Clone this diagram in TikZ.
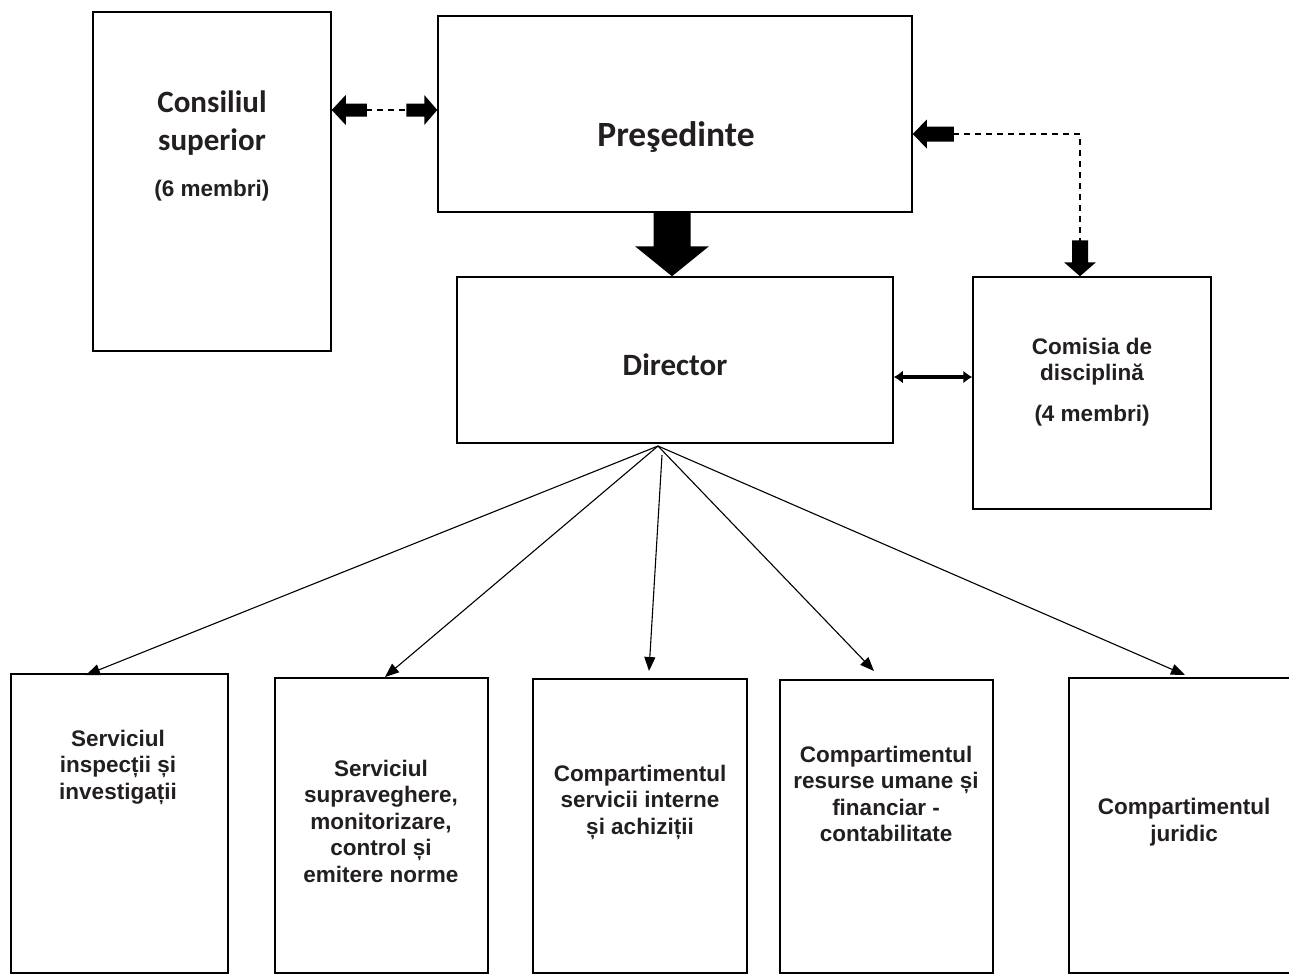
\documentclass[tikz,border=0pt]{standalone}
\usepackage{fontspec}
\setmainfont{Liberation Sans}
\newfontfamily\calfont{Carlito}
\usetikzlibrary{arrows.meta}
\definecolor{ink}{HTML}{231F20}
\begin{document}
\begin{tikzpicture}[x=1pt,y=-1pt,
  boxnode/.style={draw=black,line width=1.5pt,inner sep=0pt,fill=white},
  txt/.style={text=ink,align=center,inner sep=0pt,font=\fontsize{22.5}{26.5}\selectfont\bfseries},
  caltxt/.style={text=ink,align=center,inner sep=0pt,font=\calfont\fontsize{31}{38}\selectfont\bfseries},
  blockarrow/.style={fill=black,draw=none},
  dashline/.style={draw=black,line width=1.4pt,dash pattern=on 6pt off 5pt},
  fan/.style={draw=black,line width=1.1pt,-{Triangle[length=14pt,width=11pt]}}]
\useasboundingbox (0,0) rectangle (1289,975);
\fill[white] (0,0) rectangle (1289,975);

% boxes
\node[boxnode,minimum width=238pt,minimum height=339pt] (cons) at (212,181.5) {};
\node[boxnode,minimum width=474pt,minimum height=196pt] (pres) at (675,114) {};
\node[boxnode,minimum width=436pt,minimum height=166pt] (dir) at (675,360) {};
\node[boxnode,minimum width=238pt,minimum height=232pt] (com) at (1092,393) {};
\node[boxnode,minimum width=217pt,minimum height=299pt] (b1) at (119.5,823.5) {};
\node[boxnode,minimum width=213pt,minimum height=295pt] (b2) at (381.5,825.5) {};
\node[boxnode,minimum width=214pt,minimum height=294pt] (b3) at (640,826) {};
\node[boxnode,minimum width=213pt,minimum height=293pt] (b4) at (886.5,826.5) {};
\node[boxnode,minimum width=230pt,minimum height=295pt] (b5) at (1184,825.5) {};

% texts
\node[caltxt] (tcons) at (212,123) {Consiliul\\superior};
\node[txt] (tcons2) at (212,191) {(6 membri)};
\node[caltxt,font=\calfont\fontsize{35.5}{40}\selectfont\bfseries] (tpres) at (676,137) {Preşedinte};
\node[caltxt] (tdir) at (675,365) {Director};
\node[txt] (tcom) at (1092,361.5) {Comisia de\\disciplină};
\node[txt] (tcom2) at (1092,416) {(4 membri)};
\node[txt] (tb1) at (118,767) {Serviciul\\inspecții și\\investigații};
\node[txt] (tb2) at (381,821) {Serviciul\\supraveghere,\\monitorizare,\\control și\\emitere norme};
\node[txt] (tb3) at (640,802) {Compartimentul\\servicii interne\\și achiziții};
\node[txt] (tb4) at (886,794) {Compartimentul\\resurse umane și\\financiar -\\contabilitate};
\node[txt] (tb5) at (1184,822) {Compartimentul\\juridic};

% Consiliul <-> Presedinte
\fill[blockarrow] (cons.east |- 0,110) -- ++(14,-15) -- ++(0,8.5) -- ++(21,0) -- ++(0,13) -- ++(-21,0) -- ++(0,8.5) -- cycle;
\fill[blockarrow] (pres.west |- 0,110) -- ++(-13,-15) -- ++(0,8.5) -- ++(-18,0) -- ++(0,13) -- ++(18,0) -- ++(0,8.5) -- cycle;
\coordinate (c1) at (366,110);
\coordinate (c2) at (407,110);
\draw[dashline] (c1) -- (c2);

% Presedinte <-> Comisia (dashed elbow)
\fill[blockarrow] (pres.east |- 0,134) -- ++(14,-14.5) -- ++(0,7) -- ++(27,0) -- ++(0,15) -- ++(-27,0) -- ++(0,7) -- cycle;
\fill[blockarrow] (com.north -| 1080,0) -- ++(-16,-14) -- ++(8,0) -- ++(0,-22) -- ++(16,0) -- ++(0,22) -- ++(8,0) -- cycle;
\coordinate (d1) at (953,134);
\coordinate (d2) at (1080,134);
\coordinate (d3) at (1080,242);
\draw[dashline] (d1) -- (d2) -- (d3);

% Presedinte -> Director big arrow
\fill[blockarrow] (dir.north -| 672,0) -- ++(-37,-30) -- ++(18.5,0) -- ++(0,-35) -- ++(37,0) -- ++(0,35) -- ++(18.5,0) -- cycle;

% Director <-> Comisia
\draw[line width=3.5pt,{Latex[length=9pt,width=13pt]}-{Latex[length=9pt,width=13pt]}] (dir.east |- 0,377) -- (com.west |- 0,377);

% fan
\coordinate (apex) at (658,446);
\coordinate (apex3) at (662,455);
\coordinate (e1) at (86,675);
\coordinate (e2) at (385,677);
\coordinate (e3) at (649,671);
\coordinate (e4) at (874,671);
\coordinate (e5) at (1185,675);
\draw[fan] (apex) -- (e1);
\draw[fan] (apex) -- (e2);
\draw[fan] (apex3) -- (e3);
\draw[fan] (apex) -- (e4);
\draw[fan] (apex) -- (e5);
\end{tikzpicture}
\end{document}
